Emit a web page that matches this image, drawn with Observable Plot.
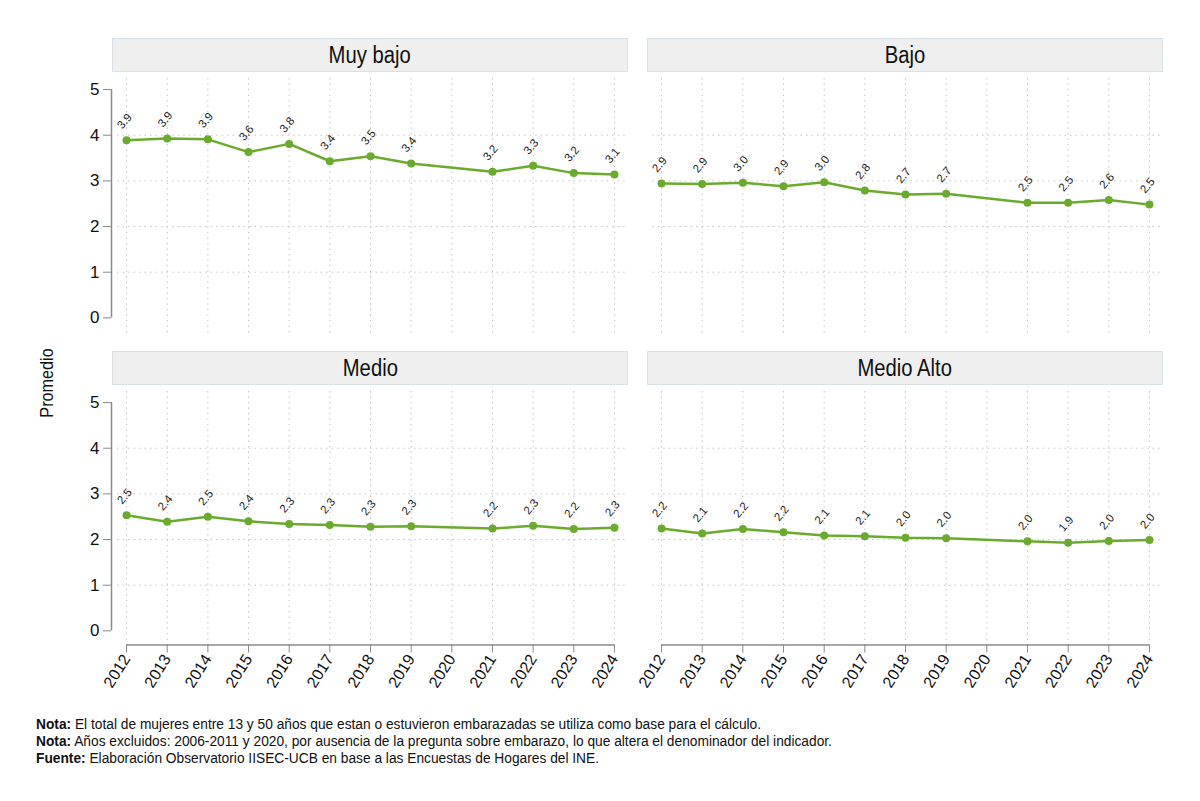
<!DOCTYPE html>
<html>
<head>
<meta charset="utf-8">
<script src="https://cdn.jsdelivr.net/npm/d3@7"></script>
<script src="https://cdn.jsdelivr.net/npm/@observablehq/plot@0.6"></script>
<style>
  html, body { margin: 0; padding: 0; background: #fff; }
  body { width: 1200px; height: 801px; position: relative; overflow: hidden;
         font-family: "Liberation Sans Narrow", "Arial Narrow", "Liberation Sans", Arial, sans-serif; }
  .panel { position: absolute; }
  .panel svg { background: transparent !important; overflow: visible; }
  .hdr { position: absolute; box-sizing: border-box; background: #efefef; border: 1px solid #d6e2e8;
         display: flex; align-items: center; justify-content: center; font-size: 23px; color: #111; }
  .hdr span { display: inline-block; transform: scaleX(0.88); }
  #ytitle { position: absolute; left: 47px; top: 383px; transform: translate(-50%, -50%) rotate(-90deg) scaleX(0.9);
            font-size: 18px; color: #111; white-space: nowrap; }
  #caption { position: absolute; left: 36px; top: 715px; font-size: 15.2px; line-height: 17px; color: #111;
             transform-origin: 0 0; transform: scaleX(0.905); white-space: nowrap; }
</style>
</head>
<body>
<div id="ytitle">Promedio</div>
<div id="caption">
  <div><b>Nota:</b> El total de mujeres entre 13 y 50 años que estan o estuvieron embarazadas se utiliza como base para el cálculo.</div>
  <div><b>Nota:</b> Años excluidos: 2006-2011 y 2020, por ausencia de la pregunta sobre embarazo, lo que altera el denominador del indicador.</div>
  <div><b>Fuente:</b> Elaboración Observatorio IISEC-UCB en base a las Encuestas de Hogares del INE.</div>
</div>
<script>
// ---- data ----
const panelTitles = ["Muy bajo", "Bajo", "Medio", "Medio Alto"];
const years = [2012, 2013, 2014, 2015, 2016, 2017, 2018, 2019, 2021, 2022, 2023, 2024];
const tickYears = [2012, 2013, 2014, 2015, 2016, 2017, 2018, 2019, 2020, 2021, 2022, 2023, 2024];
const yTicks = [0, 1, 2, 3, 4, 5];
const muyBajo   = [3.89, 3.93, 3.91, 3.63, 3.81, 3.43, 3.54, 3.38, 3.20, 3.33, 3.17, 3.14];
const bajo      = [2.94, 2.93, 2.96, 2.88, 2.97, 2.79, 2.70, 2.72, 2.52, 2.52, 2.58, 2.48];
const medio     = [2.53, 2.39, 2.50, 2.40, 2.34, 2.32, 2.28, 2.29, 2.24, 2.30, 2.23, 2.26];
const medioAlto = [2.24, 2.13, 2.23, 2.16, 2.09, 2.07, 2.04, 2.03, 1.96, 1.93, 1.97, 1.99];

const green = "#6aab2e";
const gridStyle = {stroke: "#c4c4c4", strokeDasharray: "1.5,4", strokeWidth: 1};
const axisGray = "#8a8a8a";
const FONT = '"Liberation Sans Narrow", "Arial Narrow", "Liberation Sans", Arial, sans-serif';

function makePanel(title, values, opt) {
  const data = years.map((yr, i) => ({year: yr, value: values[i]}));
  const marks = [
    Plot.ruleY([1, 2, 3, 4], {x1: 2011.78, x2: 2024.32, ...gridStyle}),
    Plot.ruleX(tickYears, {y1: -0.33, y2: 5.33, ...gridStyle})
  ];
  if (opt.showY) {
    marks.push(Plot.ruleX([2011.63], {y1: 0, y2: 5, stroke: axisGray, strokeWidth: 1.5}));
    marks.push(Plot.axisY({ticks: yTicks, tickSize: 8, tickPadding: 4, fontSize: 17, label: null,
                           stroke: axisGray, tickFormat: d => String(d)}));
  }
  if (opt.showX) {
    marks.push(Plot.ruleY([-0.31], {x1: 2012, x2: 2024, stroke: axisGray, strokeWidth: 1.5}));
    marks.push(Plot.axisX({ticks: tickYears, tickSize: 8, tickPadding: 3, tickRotate: -58, fontSize: 16,
                           label: null, stroke: axisGray, tickFormat: d => String(d)}));
  }
  marks.push(Plot.line(data, {x: "year", y: "value", stroke: green, strokeWidth: 2.5}));
  marks.push(Plot.dot(data, {x: "year", y: "value", fill: green, r: 4}));
  marks.push(Plot.text(data, {x: "year", y: "value", text: d => d.value.toFixed(1), rotate: -50,
                              dy: -19, dx: -2, fontSize: 11.5, fill: "#222"}));

  const height = opt.showX ? 330 : 270;
  const chart = Plot.plot({
    width: opt.width,
    height,
    marginLeft: opt.marginLeft,
    marginRight: opt.marginRight,
    marginTop: 2,
    marginBottom: height - 259.5,
    style: {background: "transparent", fontFamily: FONT, color: "#111", overflow: "visible"},
    x: {domain: [2011.63, 2024.37], axis: null},
    y: {domain: [-0.31, 5.33], axis: null},
    marks
  });
  const div = document.createElement("div");
  div.className = "panel";
  div.style.left = opt.left + "px";
  div.style.top = opt.top + "px";
  div.appendChild(chart);
  document.body.appendChild(div);

  const hdr = document.createElement("div");
  hdr.className = "hdr";
  const span = document.createElement("span");
  span.textContent = title;
  hdr.appendChild(span);
  hdr.style.left = opt.hx + "px";
  hdr.style.top = opt.hy + "px";
  hdr.style.width = "516px";
  hdr.style.height = "34px";
  document.body.appendChild(hdr);
}

const seriesList = [muyBajo, bajo, medio, medioAlto];
const layouts = [
  {left: 0,   top: 72,  width: 636, marginLeft: 111, marginRight: 7,  showY: true,  showX: false, hx: 112, hy: 38},
  {left: 636, top: 72,  width: 560, marginLeft: 10,  marginRight: 32, showY: false, showX: false, hx: 647, hy: 38},
  {left: 0,   top: 385, width: 636, marginLeft: 111, marginRight: 7,  showY: true,  showX: true,  hx: 112, hy: 351},
  {left: 636, top: 385, width: 560, marginLeft: 10,  marginRight: 32, showY: false, showX: true,  hx: 647, hy: 351}
];
panelTitles.forEach((t, i) => makePanel(t, seriesList[i], layouts[i]));
</script>
</body>
</html>
